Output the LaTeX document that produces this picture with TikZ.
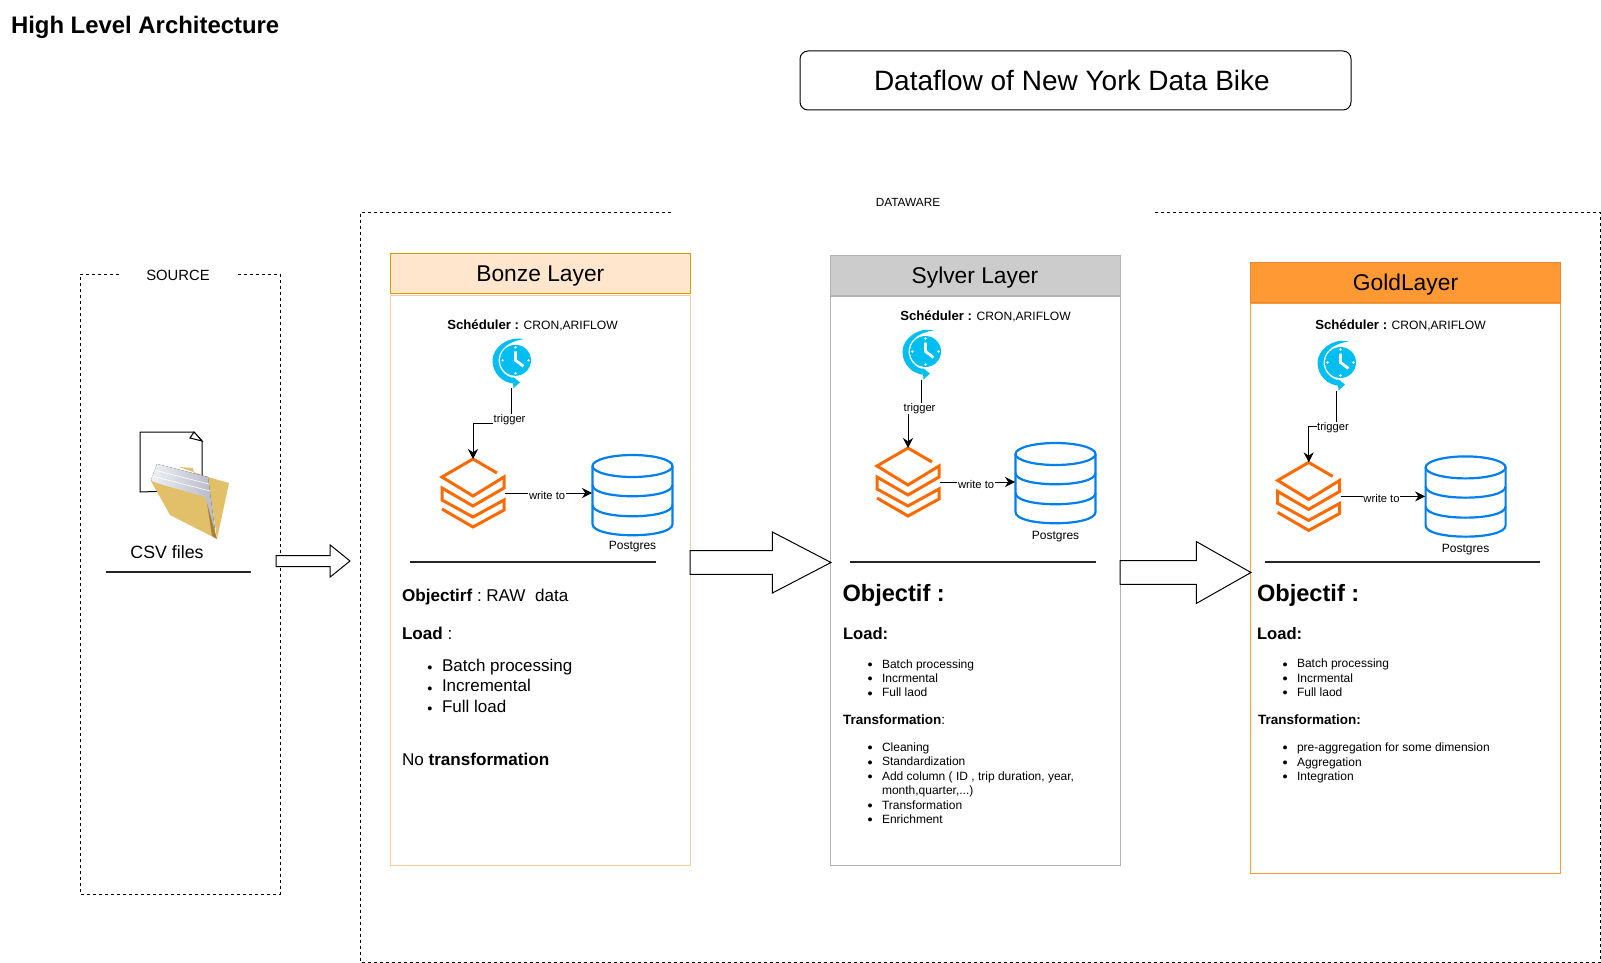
\documentclass[tikz,border=0pt]{standalone}
\usepackage{fontspec}
\setmainfont{Liberation Sans}
\usetikzlibrary{shapes.arrows, arrows.meta, positioning}

\definecolor{bronzefill}{HTML}{FFE6CC}
\definecolor{bronzeline}{HTML}{D79B00}
\definecolor{bronzebody}{HTML}{FFCC99}
\definecolor{silverfill}{HTML}{CCCCCC}
\definecolor{silverline}{HTML}{B3B3B3}
\definecolor{goldfill}{HTML}{FF9933}
\definecolor{clockblue}{HTML}{00BEF2}
\definecolor{brickorange}{HTML}{FF6A00}
\definecolor{dbblue}{HTML}{007FEE}
\definecolor{foldergold}{HTML}{E2C069}
\definecolor{folderdark}{HTML}{A9803C}
\definecolor{paperblue}{HTML}{D5D9E8}

\newcommand{\fsz}[2]{\fontsize{#1}{#2}\selectfont}
\newcommand{\itm}{\leavevmode\llap{\raisebox{0.4pt}{\fsz{4.6}{5}●}\hspace{4.6pt}}}
\newcommand{\schedtext}{{\fsz{6.6}{8}\bfseries Schéduler :} CRON,ARIFLOW}

\begin{document}
\begin{tikzpicture}[
    x=0.5pt, y=-0.5pt,
    txt/.style={inner sep=0, outer sep=0, align=left},
    dashbox/.style={draw, line width=0.5pt, dash pattern=on 1.5pt off 1.5pt},
    layertitle/.style={rectangle, draw, line width=0.5pt, inner sep=0, outer sep=0, text height=10.8pt, text depth=2pt, font=\fsz{11.4}{14}},
    layerbody/.style={rectangle, draw, line width=0.5pt, inner sep=0, outer sep=0},
    rulebar/.style={line width=1pt, draw=black!85},
    sched/.style={txt, font=\fsz{6.05}{7.2}},
    smalllabel/.style={txt, font=\fsz{6}{7.2}},
    big/.style={txt, font=\fsz{8.55}{10.25}},
    bigitems/.style={txt, font=\fsz{8.5}{10.25}},
    objhead/.style={txt, font=\fsz{11.8}{14}\bfseries},
    loadhead/.style={txt, font=\fsz{8.3}{10}\bfseries},
    transhead/.style={txt, font=\fsz{6.75}{8}},
    items/.style={txt, font=\fsz{6}{7.2}},
    link/.style={draw, line width=0.5pt, -{Stealth[length=5pt,width=5pt]}},
    linklabel/.style={fill=white, inner sep=0.3pt, xshift=-0.7pt, yshift=-1pt, font=\fsz{5.6}{6.6}},
    bigarrow/.style={single arrow, draw, fill=white, line width=0.5pt, anchor=tail, inner xsep=0pt, outer sep=0, single arrow head indent=0pt},
    clockbox/.style={inner sep=0, outer sep=0, minimum width=19.5pt, minimum height=25pt},
    brickbox/.style={inner sep=0, outer sep=0, minimum width=32pt, minimum height=34pt},
    dbbox/.style={inner sep=0, outer sep=0, minimum width=40.5pt, minimum height=40.5pt},
    pics/clockicon/.style={code={
        \fill[clockblue] (4.5,-3) circle [radius=15.5];
        \fill[clockblue] (12.5,-24) .. controls (-3.5,-28) and (-18.5,-15) .. (-18.5,-3) .. controls (-18.5,10) and (-8.5,20) .. (4.5,20.5) -- (4.5,15) .. controls (-6.5,14) and (-12.5,5) .. (-12.5,-3) .. controls (-12.5,-13) and (-3.5,-22) .. (12.5,-24) -- cycle;
        \fill[clockblue] (1.5,13.5) -- (9,19) -- (2.5,25) -- cycle;
        \draw[white, line width=1.4pt] (4.5,-12) -- (4.5,-3) -- (12.5,3);
        \fill[white] (4.5,-16) circle [radius=1.3] (17.5,-3) circle [radius=1.3] (4.5,10) circle [radius=1.3] (-8.5,-3) circle [radius=1.3];
    }},
    pics/brickicon/.style={code={
        \draw[brickorange, line width=1.5pt] (24,-20) -- (0,-34) -- (-31,-16) -- (0,3) -- (31,-16) -- (31,-5) -- (0,13) -- (-31,-5) -- (-31,7) -- (0,24) -- (31,7) -- (31,17) -- (0,34) -- (-31,16);
    }},
    pics/dbicon/.style={code={
        \draw[dbblue, line width=1.1pt] (0,-29) ellipse [x radius=40, y radius=11];
        \draw[dbblue, line width=1.1pt] (-40,-29) -- (-40,29) .. controls (-40,44) and (40,44) .. (40,29) -- (40,-29);
        \draw[dbblue, line width=1.1pt] (-40,-10) .. controls (-40,5) and (40,5) .. (40,-10);
        \draw[dbblue, line width=1.1pt] (-40,10) .. controls (-40,25) and (40,25) .. (40,10);
    }}
]
\useasboundingbox (0,0) rectangle (1601,963);

% headings
\node [txt, anchor=west, font=\fsz{11.95}{14}\bfseries] (heading) at (11,27) {High Level Architecture};
\node [rectangle, draw, rounded corners=4pt, line width=0.5pt, minimum width=275.5pt, minimum height=29.5pt, font=\fsz{14}{16}] (dataflow) at (1075.5,80.5) {Dataflow of New York Data Bike\hspace*{3.6pt}};

% outer frames
\draw [dashbox] (671,212.5) -| (360,962) -| (1600,212.5) -- (1153,212.5);
\node [txt, font=\fsz{5.9}{7}] (dataware) at (908,202) {DATAWARE};
\draw [dashbox] (119,274) -| (80,894) -| (280,274) -- (238,274);
\node [txt, font=\fsz{7.4}{9}] (source) at (178,275) {SOURCE};

% csv files
\draw [fill=white, line width=0.5pt] (140,432) -- (194,432) -- (202,441) -- (202,490) -- (140,492) -- cycle;
\draw [fill=white, line width=0.5pt] (194,432) -- (190,438) -- (202,441) -- cycle;
\fill [foldergold] (179,467) -- (193,468) -- (194,473) -- (229,483) -- (217,539) -- (208,477) -- cycle;
\fill [left color=paperblue!40!white, right color=paperblue!85!black] (157,464) -- (208,477) -- (215,530) -- (151,480) -- cycle;
\draw [white, line width=0.3pt] (154,470) -- (209,484) (152,476) -- (210,491);
\fill [foldergold] (151,481) -- (163,485) -- (205,497) -- (217,539) -- (170,515) -- cycle;
\fill [folderdark] (207,503) -- (217,539) -- (212,536) -- cycle;
\node [txt, font=\fsz{8.9}{11}] (csv) at (167,552) {CSV files};
\draw [rulebar] (106,572) -- (251,572);

% bronze layer
\node [layertitle, fill=bronzefill, draw=bronzeline, minimum width=150.3pt, minimum height=20pt] (bronzetitle) at (540.3,273) {Bonze Layer};
\node [layerbody, draw=bronzebody, minimum width=150.3pt, minimum height=285pt, below=1pt of bronzetitle] (bronzebody) {};
\node [sched] (schedA) at (532.5,325) {\schedtext};
\node [clockbox] (clockA) at (511,363.3) {};
\pic at (clockA) {clockicon};
\node [brickbox] (bricksA) at (473,493) {};
\pic at (bricksA) {brickicon};
\node [dbbox] (dbA) at (632.5,495) {};
\pic at (dbA) {dbicon};
\node [smalllabel, below=3pt of dbA] (pgA) {Postgres};
\path [link] (clockA.south) -- node[linklabel, pos=.83] {trigger} ++(0,35) -| (bricksA.north);
\path [link] (bricksA.east) -- node[linklabel] {write to} (bricksA.east -| dbA.west);
\draw [rulebar] (410,562) -- (656,562);
\node [big, anchor=west] (objA) at (402,597) {\textbf{Objectirf} :\kern2.2pt RAW\ \ data};
\node [big, anchor=west] (loadA) at (402,633) {\textbf{Load} :};
\node [bigitems, anchor=west] (listA) at (442,685.8) {\itm Batch processing\\\itm Incremental\\\itm Full load};
\node [big, anchor=west] (noneA) at (402,759) {No \textbf{transformation}};

% silver layer
\node [layertitle, fill=silverfill, draw=silverline, minimum width=145pt, minimum height=20pt] (silvertitle) at (975,275) {Sylver Layer};
\node [layerbody, draw=silverline, minimum width=145pt, minimum height=284.5pt, below=0.5pt of silvertitle] (silverbody) {};
\node [sched] (schedB) at (985.5,316) {\schedtext};
\node [clockbox] (clockB) at (921,354.5) {};
\pic at (clockB) {clockicon};
\node [brickbox] (bricksB) at (908,482) {};
\pic at (bricksB) {brickicon};
\node [dbbox] (dbB) at (1055.5,483) {};
\pic at (dbB) {dbicon};
\node [smalllabel, below=4pt of dbB] (pgB) {Postgres};
\path [link] (clockB.south) -- node[linklabel, pos=.79] {trigger} ++(0,34) -| (bricksB.north);
\path [link] (bricksB.east) -- node[linklabel] {write to} (bricksB.east -| dbB.west);
\draw [rulebar] (850,562) -- (1096,562);
\node [objhead, anchor=west] (objB) at (842.5,595) {Objectif :};
\node [loadhead, anchor=west] (loadB) at (843,634) {Load:};
\node [items, anchor=west] (listB) at (882,678.3) {\itm Batch processing\\\itm Incrmental\\\itm Full laod};
\node [transhead, anchor=west] (transB) at (843,720) {\textbf{Transformation}:};
\node [items, anchor=west] (stepsB) at (882,783.2) {\itm Cleaning\\\itm Standardization\\\itm Add column ( ID , trip duration, year,\\month,quarter,...)\\\itm Transformation\\\itm Enrichment};

% gold layer
\node [layertitle, fill=goldfill, draw=goldfill!90!black, minimum width=155pt, minimum height=20pt] (goldtitle) at (1405.5,282) {GoldLayer};
\node [layerbody, draw=goldfill, minimum width=155pt, minimum height=285pt, below=0.5pt of goldtitle] (goldbody) {};
\node [sched] (schedC) at (1400.5,325) {\schedtext};
\node [clockbox] (clockC) at (1336,365.5) {};
\pic at (clockC) {clockicon};
\node [brickbox] (bricksC) at (1308.7,496.4) {};
\pic at (bricksC) {brickicon};
\node [dbbox] (dbC) at (1465.6,496.4) {};
\pic at (dbC) {dbicon};
\node [smalllabel, below=3.85pt of dbC] (pgC) {Postgres};
\path [link] (clockC.south) -- node[linklabel, pos=.98, xshift=-0.8pt] {trigger} ++(0,36) -| (bricksC.north);
\path [link] (bricksC.east) -- node[linklabel] {write to} (dbC.west);
\draw [rulebar] (1265,562) -- (1540,562);
\node [objhead, anchor=west] (objC) at (1257,595) {Objectif :};
\node [loadhead, anchor=west] (loadC) at (1257,634) {Load:};
\node [items, anchor=west] (listC) at (1297,678) {\itm Batch processing\\\itm Incrmental\\\itm Full laod};
\node [transhead, anchor=west] (transC) at (1258,720) {\textbf{Transformation:}};
\node [items, anchor=west] (stepsC) at (1297,763) {\itm pre-aggregation for some dimension\\\itm Aggregation\\\itm Integration};

% flow between layers
\node [bigarrow, minimum height=37pt, inner ysep=2.5pt, single arrow head extend=5.25pt, single arrow tip angle=78] (flowA) at (276,561) {};
\node [bigarrow, minimum height=70.5pt, inner ysep=5.7pt, single arrow head extend=9.3pt, single arrow tip angle=55] (flowB) at (690,562.5) {};
\node [bigarrow, minimum height=65.5pt, inner ysep=5.7pt, single arrow head extend=9.5pt, single arrow tip angle=59] (flowC) at (1120,572.5) {};

\end{tikzpicture}
\end{document}
